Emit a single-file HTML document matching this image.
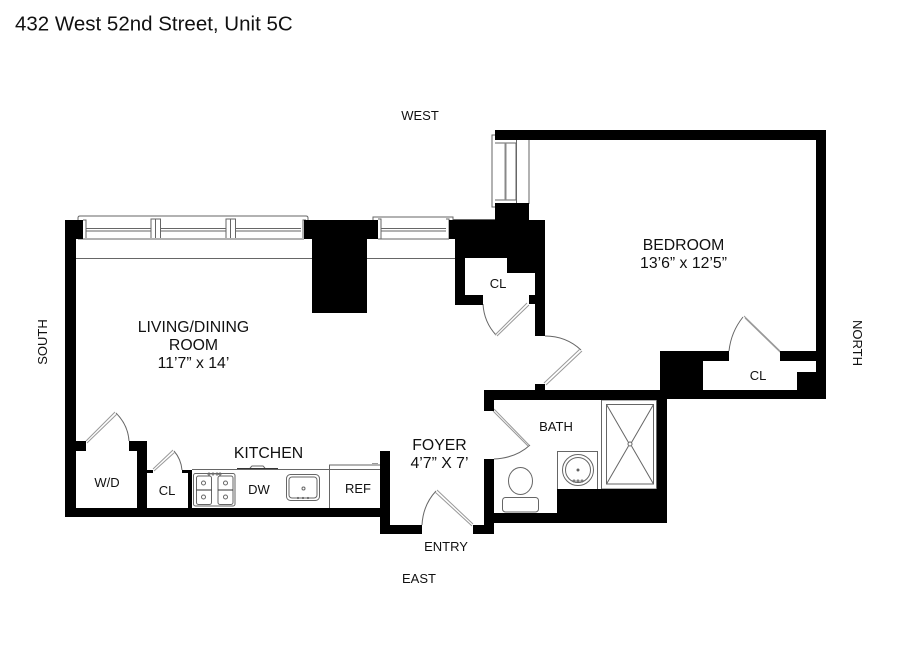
<!DOCTYPE html>
<html><head><meta charset="utf-8"><style>
html,body{margin:0;padding:0;background:#fff}
svg{display:block}
text{font-family:"Liberation Sans",Arial,sans-serif;fill:#111;text-anchor:middle}
</style></head><body>
<svg width="900" height="656" viewBox="0 0 900 656" xmlns="http://www.w3.org/2000/svg">
<text x="15" y="30.500" style="text-anchor:start;font-size:20.500px">432 West 52nd Street, Unit 5C</text>

<!-- thin lines -->
<g fill="none" stroke="#666" stroke-width="1">
 <!-- living window -->
 <path d="M78 239V218Q78 216 80 216H306Q308 216 308 218V239"/>
 <path d="M78 239H304M373 239V217H453V220"/>
 <path d="M453 219.500H495"/>
 <path d="M76 258.500H312M367 258.500H455"/>
 <path d="M86 238V220H83M151 238V219H160.500V238M155.500 238V219M226 238V219H235.500V238M230.500 238V219M303 238V220H306"/>
 <path d="M86 228.500H151M86 231H151M160 228.500H226M160 231H226M235 228.500H301M235 231H301"/>
 <path d="M381 239V219H378M449 239V219H446M381 228.500H446M381 231H446M378 239H449"/>
 <!-- bedroom window -->
 <path d="M495 135H492V207H495"/>
 <path d="M495 143H516V200H495M516.500 140V203M529 140V204"/>
 <path d="M505.500 143V200" stroke="#888" stroke-width="2"/>
 <!-- door arcs -->
 <path d="M483 304Q484 322 496 335M545 336Q566 336 581 350M129 441Q128 425 116 413M182 470Q181 459 174 451M422 525Q423 505 436 491M494 459Q516 458 530 445M729 351Q731 332 743 317"/>
 <!-- door leaves -->
 <path d="M527 303L495 335M529 305L497 336M544 383L580 349M546 385L582 351M86 441L115 412M87 443L117 414M153 469L173 450M154 471L175 452M473 524L437 490M472 526L435 492M494 409L529 445M493 411L528 446M780 351L744 316M781 353L745 318" stroke="#999"/>
 <!-- kitchen -->
 <path d="M192 469.500H380M329.500 465V508M329 465H380M250 468L252 466H263L265 468"/>
 <path d="M237 468.500H278" stroke="#333"/>
 <path d="M372 463.500H378" stroke="#999"/>
 <rect x="193.500" y="473.500" width="41.500" height="32.500" rx="2"/>
 <rect x="196.500" y="476" width="15" height="28.500" rx="2"/>
 <rect x="218" y="476" width="15" height="28.500" rx="2"/>
 <path d="M196.500 490H211.500M218 490H233" stroke="#333"/>
 <circle cx="203.500" cy="483" r="2"/><circle cx="203.500" cy="497" r="2"/><circle cx="225.500" cy="483" r="2"/><circle cx="225.500" cy="497" r="2"/>
 <circle cx="209" cy="474" r="1"/><circle cx="213" cy="474" r="1"/><circle cx="217" cy="474" r="1"/><circle cx="220" cy="474" r="1"/>
 <rect x="286.500" y="474.500" width="33" height="26" rx="4"/>
 <rect x="289" y="477" width="28" height="21" rx="3"/>
 <circle cx="303.500" cy="488.500" r="1.500"/>
 <circle cx="298" cy="498" r=".6"/><circle cx="303" cy="498" r=".6"/><circle cx="308" cy="498" r=".6"/>
 <!-- bath -->
 <rect x="601.500" y="400" width="55" height="89"/>
 <rect x="606.500" y="404.500" width="47" height="79.500"/>
 <path d="M606.500 404.500L628.500 442.500M653.500 404.500L631.500 442.500M606.500 484L628.500 446M653.500 484L631.500 446"/>
 <circle cx="630" cy="444" r="2"/>
 <path d="M557.500 489V451.500H597.500V489"/>
 <circle cx="578" cy="470" r="15.500"/><circle cx="578" cy="470" r="12.500"/><circle cx="578" cy="470" r="1" fill="#444"/>
 <circle cx="574" cy="481" r="1"/><circle cx="578" cy="481" r="1"/><circle cx="582" cy="481" r="1"/>
 <ellipse cx="520.500" cy="481" rx="12" ry="13.500"/>
 <rect x="502.500" y="497.500" width="36" height="14.500" rx="3"/>
</g>

<!-- walls -->
<g fill="#000">
 <path d="M65 220H83V239H76V508H380V451H390V525H422V534H380V517H65Z"/>
 <path d="M304 220H378V239H367V313H312V239H304Z"/>
 <path d="M449 220H495V203H529V220H545V336H535V304H529V295H535V273H507V258H465V295H483V305H455V239H449Z"/>
 <path d="M495 130H826V399H667V523H494V534H473V525H484V459H494V513H557V489H657V400H494V411H484V390H535V384H545V390H660V351H729V361H703V390H797V372H816V361H780V351H816V140H495Z"/>
 <path d="M76 441H86V451H76ZM129 441H147V508H137V451H129ZM147 470H153V473H147ZM182 470H192V508H188V473H182Z"/>
</g>

<g style="font-size:15.800px">
<text x="420" y="120" style="font-size:13px">WEST</text>
<text x="419" y="583" style="font-size:13px">EAST</text>
<text x="446" y="551" style="font-size:13px">ENTRY</text>
<text transform="translate(47,342) rotate(-90)" style="font-size:13px">SOUTH</text>
<text transform="translate(853,343) rotate(90)" style="font-size:13px">NORTH</text>
<text x="683.500" y="250">BEDROOM</text>
<text x="683.500" y="268">13’6” x 12’5”</text>
<text x="193.500" y="332">LIVING/DINING</text>
<text x="193.500" y="350">ROOM</text>
<text x="193.500" y="368">11’7” x 14’</text>
<text x="439.500" y="450">FOYER</text>
<text x="439.500" y="468">4’7” X 7’</text>
<text x="268.500" y="458">KITCHEN</text>
<text x="556" y="431" style="font-size:13px">BATH</text>
<text x="107" y="487" style="font-size:13px">W/D</text>
<text x="167" y="495" style="font-size:13px">CL</text>
<text x="259" y="494" style="font-size:13px">DW</text>
<text x="358" y="493" style="font-size:13px">REF</text>
<text x="498" y="288" style="font-size:13px">CL</text>
<text x="758" y="380" style="font-size:13px">CL</text>
</g>
</svg>
</body></html>
